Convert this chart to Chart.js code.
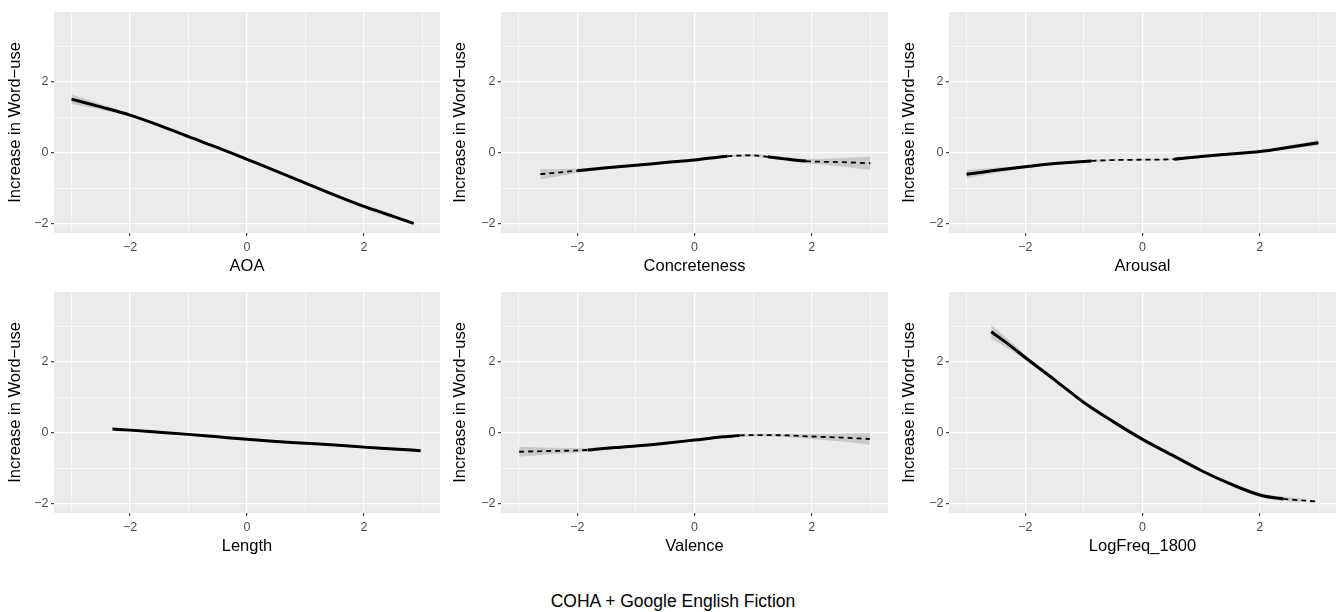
<!DOCTYPE html>
<html>
<head>
<meta charset="utf-8">
<script src="https://cdn.jsdelivr.net/npm/chart.js@4.4.1/dist/chart.umd.min.js"></script>
<style>
  body { margin: 0; background: #fff; width: 1340px; height: 612px; position: relative; overflow: hidden; font-family: "Liberation Sans", Arial, sans-serif; }
  .panel { position: absolute; height: 280px; }
  #caption { position: absolute; left: 0; width: 1346px; top: 591px; text-align: center; font-size: 17.5px; line-height: 20px; color: #000; }
</style>
</head>
<body>
<div class="panel" style="left:0;top:0;width:445px"><canvas id="c0"></canvas></div>
<div class="panel" style="left:445px;top:0;width:445px"><canvas id="c1"></canvas></div>
<div class="panel" style="left:894px;top:0;width:446px"><canvas id="c2"></canvas></div>
<div class="panel" style="left:0;top:280px;width:445px"><canvas id="c3"></canvas></div>
<div class="panel" style="left:445px;top:280px;width:445px"><canvas id="c4"></canvas></div>
<div class="panel" style="left:894px;top:280px;width:446px"><canvas id="c5"></canvas></div>
<div id="caption">COHA + Google English Fiction</div>

<script>
// shared axes
const xTicks = [-3, -2, -1, 0, 1, 2, 3];
const xTickLabels = ['', '−2', '', '0', '', '2', ''];
const yTicks = [-2, -1, 0, 1, 2, 3];
const yTickLabels = ['−2', '', '0', '', '2', ''];
const yTitle = 'Increase in Word−use';
const caption = 'COHA + Google English Fiction';

// AOA  (ci null = no ribbon there)
const aoaX  = [-3, -2.5, -2, -1.5, -1, -0.5, 0, 0.5, 1, 1.5, 2, 2.5, 2.85];
const aoaY  = [1.51, 1.29, 1.06, 0.77, 0.45, 0.14, -0.19, -0.52, -0.86, -1.2, -1.52, -1.80, -2.0];
const aoaCI = [0.14, 0.08, 0.04, 0.03, 0.03, 0.02, 0.02, 0.02, 0.03, 0.03, 0.05, 0.07, null];
const aoaDash = [0, 0, 0, 0, 0, 0, 0, 0, 0, 0, 0, 0];

// Concreteness
const conX  = [-2.63, -2.3, -2, -1.5, -1, -0.5, 0, 0.56, 1, 1.25, 1.5, 1.9, 2.5, 3.0];
const conY  = [-0.61, -0.56, -0.51, -0.43, -0.36, -0.28, -0.21, -0.10, -0.08, -0.12, -0.17, -0.24, -0.27, -0.30];
const conCI = [0.15, 0.10, 0.06, 0.04, 0.03, 0.03, 0.03, 0.03, 0.04, 0.04, 0.05, 0.06, 0.12, 0.19];
const conDash = [1, 1, 0, 0, 0, 0, 0, 1, 1, 0, 0, 1, 1];

// Arousal
const aroX  = [-3, -2.5, -2, -1.5, -0.87, -0.5, 0, 0.54, 1, 1.5, 2, 2.5, 3];
const aroY  = [-0.61, -0.50, -0.40, -0.31, -0.235, -0.21, -0.20, -0.185, -0.11, -0.04, 0.03, 0.15, 0.28];
const aroCI = [0.12, 0.07, 0.04, 0.03, 0.03, 0.02, 0.02, 0.02, 0.02, 0.03, 0.03, 0.05, 0.08];
const aroDash = [0, 0, 0, 0, 1, 1, 1, 0, 0, 0, 0, 0];

// Length
const lenX  = [-2.3, -2, -1.5, -1, -0.5, 0, 0.5, 1, 1.5, 2, 2.5, 2.97];
const lenY  = [0.10, 0.07, 0.01, -0.05, -0.12, -0.19, -0.25, -0.30, -0.35, -0.41, -0.46, -0.51];
const lenCI = [0.05, 0.04, 0.03, 0.03, 0.02, 0.02, 0.02, 0.02, 0.03, 0.03, 0.04, 0.05];
const lenDash = [0, 0, 0, 0, 0, 0, 0, 0, 0, 0, 0];

// Valence
const valX  = [-2.99, -2.5, -1.82, -1.5, -1, -0.5, 0, 0.5, 0.77, 1.2, 1.6, 2, 2.5, 2.99];
const valY  = [-0.54, -0.52, -0.49, -0.44, -0.38, -0.30, -0.21, -0.12, -0.08, -0.07, -0.08, -0.11, -0.14, -0.18];
const valCI = [0.14, 0.09, 0.05, 0.04, 0.03, 0.03, 0.03, 0.03, 0.03, 0.04, 0.05, 0.07, 0.11, 0.16];
const valDash = [1, 1, 0, 0, 0, 0, 0, 0, 1, 1, 1, 1, 1];

// LogFreq_1800
const lfX  = [-2.58, -2.25, -2, -1.5, -1, -0.5, 0, 0.5, 1, 1.5, 2, 2.4, 2.7, 3.0];
const lfY  = [2.85, 2.45, 2.12, 1.49, 0.85, 0.31, -0.19, -0.63, -1.07, -1.45, -1.76, -1.87, -1.91, -1.95];
const lfCI = [0.19, 0.12, 0.07, 0.04, 0.03, 0.03, 0.03, 0.03, 0.03, 0.04, 0.05, 0.06, 0.06, null];
const lfDash = [0, 0, 0, 0, 0, 0, 0, 0, 0, 0, 0, 1, 1];

const panels = [
    { id: 'c0', name: 'AOA',          xs: aoaX, ys: aoaY, ci: aoaCI, dash: aoaDash, yw: 54, pr: 5 },
    { id: 'c1', name: 'Concreteness', xs: conX, ys: conY, ci: conCI, dash: conDash, yw: 56, pr: 2 },
    { id: 'c2', name: 'Arousal',      xs: aroX, ys: aroY, ci: aroCI, dash: aroDash, yw: 55, pr: 4 },
    { id: 'c3', name: 'Length',       xs: lenX, ys: lenY, ci: lenCI, dash: lenDash, yw: 54, pr: 5 },
    { id: 'c4', name: 'Valence',      xs: valX, ys: valY, ci: valCI, dash: valDash, yw: 56, pr: 2 },
    { id: 'c5', name: 'LogFreq_1800', xs: lfX,  ys: lfY,  ci: lfCI,  dash: lfDash,  yw: 55, pr: 4 }
];

// grey panel background behind the grid
const panelBg = {
    id: 'panelBg',
    beforeDraw(chart) {
        const a = chart.chartArea;
        const ctx = chart.ctx;
        ctx.save();
        ctx.fillStyle = '#EBEBEB';
        ctx.fillRect(a.left, a.top, a.right - a.left, a.bottom - a.top);
        ctx.restore();
    }
};

const tickFont = { family: '"Liberation Sans", Arial, sans-serif', size: 12.5 };
const titleFont = { family: '"Liberation Sans", Arial, sans-serif', size: 16.5 };

function isMajor(v) { return v % 2 === 0; }

function makePanel(p) {
    const pts = (f) => p.xs.map((x, i) => ({ x: x, y: f(i) }));
    const band = (sign) => pts(i => p.ci[i] == null ? null : p.ys[i] + sign * p.ci[i]);
    return new Chart(document.getElementById(p.id), {
        type: 'line',
        data: {
            datasets: [
                {
                    data: band(-1),
                    borderWidth: 0, pointRadius: 0, fill: false, order: 2
                },
                {
                    data: band(1),
                    borderWidth: 0, pointRadius: 0, fill: '-1', order: 1,
                    backgroundColor: 'rgba(153,153,153,0.4)'
                },
                {
                    data: pts(i => p.ys[i]),
                    borderColor: '#000', borderWidth: 3, pointRadius: 0, fill: false, order: 0,
                    segment: {
                        borderDash: ctx => p.dash[ctx.p0DataIndex] ? [5, 4] : undefined,
                        borderWidth: ctx => p.dash[ctx.p0DataIndex] ? 1.8 : 3
                    }
                }
            ]
        },
        options: {
            responsive: true,
            maintainAspectRatio: false,
            animation: false,
            events: [],
            elements: { line: { cubicInterpolationMode: 'monotone', tension: 0.4 } },
            layout: { autoPadding: false, padding: { top: 12, right: p.pr, bottom: 0, left: 0 } },
            plugins: { legend: { display: false }, tooltip: { enabled: false } },
            scales: {
                x: {
                    type: 'linear', min: -3.3, max: 3.3,
                    afterBuildTicks: s => { s.ticks = xTicks.map(v => ({ value: v })); },
                    afterFit: s => { s.height = 47; },
                    border: { display: false },
                    grid: {
                        color: '#fff',
                        lineWidth: ctx => isMajor(ctx.tick.value) ? 1.3 : 0.6,
                        tickColor: ctx => isMajor(ctx.tick.value) ? '#333' : 'rgba(0,0,0,0)',
                        tickLength: 3, tickWidth: 1.1
                    },
                    ticks: {
                        autoSkip: false, maxRotation: 0, padding: 4,
                        color: '#4D4D4D', font: tickFont,
                        callback: v => xTickLabels[xTicks.indexOf(v)] ?? ''
                    },
                    title: { display: true, text: p.name, color: '#000', font: titleFont, padding: { top: 0, bottom: 4 } }
                },
                y: {
                    type: 'linear', min: -2.27, max: 3.97,
                    afterBuildTicks: s => { s.ticks = yTicks.map(v => ({ value: v })); },
                    afterFit: s => { s.width = p.yw; },
                    border: { display: false },
                    grid: {
                        color: '#fff',
                        lineWidth: ctx => isMajor(ctx.tick.value) ? 1.3 : 0.6,
                        tickColor: ctx => isMajor(ctx.tick.value) ? '#333' : 'rgba(0,0,0,0)',
                        tickLength: 3, tickWidth: 1.1
                    },
                    ticks: {
                        autoSkip: false, padding: 2.5,
                        color: '#4D4D4D', font: tickFont,
                        callback: v => yTickLabels[yTicks.indexOf(v)] ?? ''
                    },
                    title: { display: true, text: yTitle, color: '#000', font: titleFont, padding: { top: 6, bottom: 0 } }
                }
            }
        },
        plugins: [panelBg]
    });
}

document.getElementById('caption').textContent = caption;
panels.forEach(makePanel);
</script>
</body>
</html>
